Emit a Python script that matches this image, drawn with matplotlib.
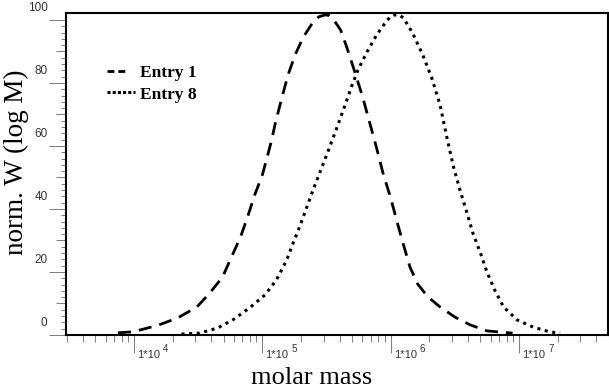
import numpy as np
import matplotlib
matplotlib.use('Agg')
import matplotlib.pyplot as plt
from matplotlib import transforms
from matplotlib.lines import Line2D
from matplotlib.ticker import FixedLocator, LogLocator, NullFormatter

# values (log10 of molar mass, normalised W)
entry1_logm = [3.875, 3.99, 4.18, 4.34, 4.49, 4.59, 4.69, 4.76, 4.83, 4.89, 4.94, 5.00,
               5.04, 5.07, 5.10, 5.15, 5.20, 5.255, 5.32, 5.395, 5.44, 5.49, 5.52, 5.55,
               5.61, 5.66, 5.71, 5.78, 5.82, 5.89, 5.94, 6.00, 6.05, 6.10, 6.15, 6.21,
               6.29, 6.385, 6.50, 6.62, 6.75, 6.95]
entry1_w = [0.7, 1.0, 3.0, 5.4, 8.9, 13.3, 18.4, 24.8, 31.1, 38.1, 44.4, 50.8,
            56.8, 61.5, 67.0, 75.0, 82.5, 88.9, 94.6, 99.3, 101.0, 101.6, 101.4, 100.4,
            96.8, 91.1, 84.8, 75.8, 69.8, 59.4, 51.4, 43.5, 35.9, 28.6, 21.6, 16.2,
            12.1, 8.9, 5.7, 3.2, 1.3, 0.6]

entry8_logm = [4.37, 4.51, 4.65, 4.77, 4.90, 5.02, 5.11, 5.19, 5.24, 5.29, 5.395, 5.51,
               5.58, 5.645, 5.70, 5.745, 5.815, 5.89, 5.97, 6.00, 6.03, 6.07, 6.10, 6.17,
               6.25, 6.32, 6.385, 6.44, 6.49, 6.54, 6.595, 6.64, 6.70, 6.75, 6.81, 6.88,
               6.985, 7.11, 7.24, 7.32]
entry8_w = [0.3, 0.6, 2.2, 4.8, 8.6, 12.7, 17.5, 23.8, 29.2, 34.3, 46.0, 58.1,
            65.7, 73.0, 79.4, 84.1, 89.8, 95.2, 99.8, 101.0, 101.6, 101.5, 100.6, 95.9,
            88.9, 81.6, 73.0, 62.3, 53.3, 46.0, 38.7, 32.4, 26.0, 20.0, 14.3, 8.9,
            4.8, 2.5, 1.0, 0.6]

labels = ['Entry 1', 'Entry 8']
x_exps = [4, 5, 6, 7]
y_major = [0, 20, 40, 60, 80, 100]
y_mid = [10, 30, 50, 70, 90]

tick_col = '#808080'
text_col = '#333333'
sans = 'Liberation Sans'
serif = 'Liberation Serif'

fig = plt.figure(figsize=(6.09, 3.89), dpi=100)
ax = fig.add_axes([66/609, 1-335/389, 542/609, 322/389])

ax.plot(10**np.array(entry1_logm), entry1_w, color='black', lw=2.0,
        linestyle=(0, (4.7, 2.9)), dash_capstyle='butt', solid_joinstyle='round')
ax.plot(10**np.array(entry8_logm), entry8_w, color='black', lw=2.2,
        linestyle=(0, (1.0, 1.5)), dash_capstyle='butt')

ax.set_xscale('log')
ax.set_xlim(10**3.470, 10**7.6935)
ax.set_ylim(0, 102.2)

for sp in ax.spines.values():
    sp.set_linewidth(1.5)
    sp.set_color('black')

# x ticks
ax.xaxis.set_major_locator(FixedLocator([10.0**e for e in x_exps]))
ax.xaxis.set_minor_locator(LogLocator(base=10, subs=np.arange(2, 10), numticks=20))
ax.xaxis.set_minor_formatter(NullFormatter())
ax.tick_params(axis='x', which='major', length=13, width=0.75, color=tick_col, labelbottom=False)
ax.tick_params(axis='x', which='minor', length=5, width=0.75, color=tick_col)

# y ticks (three lengths)
ax.set_yticks(y_major)
ax.set_yticks(np.arange(0, 102, 2), minor=True)
ax.tick_params(axis='y', which='major', length=12.5, width=0.75, color=tick_col, labelleft=False)
ax.tick_params(axis='y', which='minor', length=3.6, width=0.75, color=tick_col)
sec = ax.secondary_yaxis('left')
sec.set_yticks(y_mid)
sec.set_yticklabels([])
sec.tick_params(length=7.2, width=0.75, color=tick_col)
sec.spines['left'].set_visible(False)

# tick labels, shifted like in the original software
ytrans = transforms.blended_transform_factory(ax.transAxes, ax.transData) + \
    transforms.ScaledTranslation(-0.185, 0.12, fig.dpi_scale_trans)
for v in y_major:
    ax.text(0, v, str(v), transform=ytrans, ha='right', va='center',
            fontsize=8.5, family=sans, color=text_col)

xblend = transforms.blended_transform_factory(ax.transData, ax.transAxes)
base_off = transforms.ScaledTranslation(0.03, -0.23, fig.dpi_scale_trans)
exp_off = transforms.ScaledTranslation(0.29, -0.167, fig.dpi_scale_trans)
for e in x_exps:
    ax.text(10.0**e, 0, '1*10', transform=xblend + base_off, ha='left', va='baseline',
            fontsize=8, family=sans, color=text_col)
    ax.text(10.0**e, 0, str(e), transform=xblend + exp_off, ha='left', va='baseline',
            fontsize=7, family=sans, color=text_col)

fig.text(16/609, 1-162.5/389, 'norm. W (log M)', rotation=90, ha='center', va='center',
         fontsize=19.5, family=serif)
fig.text(312/609, 1-384/389, 'molar mass', ha='center', va='baseline',
         fontsize=19, family=serif)

handles = [Line2D([], [], color='black', lw=2.0, linestyle=(0, (2.5, 1.4, 2.5, 8)),
                  dash_capstyle='butt'),
           Line2D([], [], color='black', lw=2.2, linestyle=(0, (1.0, 0.7)),
                  dash_capstyle='butt')]
ax.legend(handles, labels, loc='upper left', bbox_to_anchor=((107-66)/542, (335-64.5)/322),
          frameon=False, borderpad=0, borderaxespad=0, handlelength=1.6,
          handletextpad=0.29, labelspacing=0.33,
          prop={'family': serif, 'weight': 'bold', 'size': 12.5})

fig.savefig('out.png', dpi=100)
